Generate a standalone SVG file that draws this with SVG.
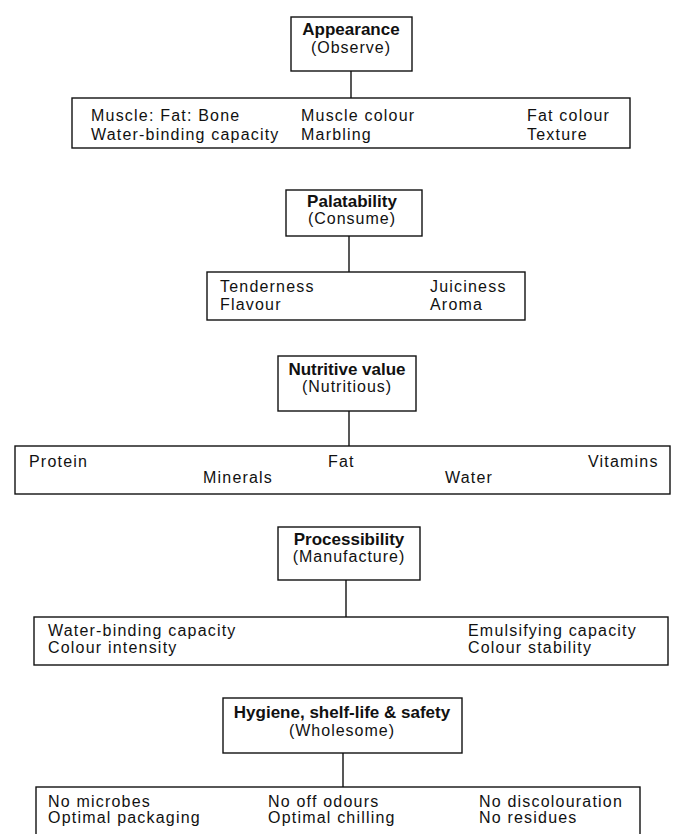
<svg xmlns="http://www.w3.org/2000/svg" width="683" height="834" viewBox="0 0 683 834">
<style>
.box{fill:#fff;stroke:#111;stroke-width:1.4}
.t{font-family:"Liberation Sans",Arial,sans-serif;font-weight:bold;font-size:17px;fill:#111;text-anchor:middle}
.s{font-family:"Liberation Sans",Arial,sans-serif;font-size:16px;fill:#111;text-anchor:middle;letter-spacing:1px}
.b{font-family:"Liberation Sans",Arial,sans-serif;font-size:16px;fill:#111;letter-spacing:1.2px}
.c{stroke:#111;stroke-width:1.4;fill:none}
</style>
<rect width="683" height="834" fill="#fff"/>
<g id="connectors">
<line class="c" x1="351" y1="71" x2="351" y2="98"/>
<line class="c" x1="349" y1="236" x2="349" y2="272"/>
<line class="c" x1="349" y1="411" x2="349" y2="446"/>
<line class="c" x1="346" y1="580" x2="346" y2="617"/>
<line class="c" x1="343" y1="753" x2="343" y2="787"/>
</g>
<g id="appearance">
<rect class="box" x="291" y="17" width="121" height="54"/>
<text class="t" x="351" y="35">Appearance</text>
<text class="s" x="351" y="53">(Observe)</text>
</g>
<g id="appearance-details">
<rect class="box" x="72" y="98" width="558" height="50"/>
<text class="b" x="91" y="121">Muscle: Fat: Bone</text>
<text class="b" x="91" y="140">Water-binding capacity</text>
<text class="b" x="301" y="121">Muscle colour</text>
<text class="b" x="301" y="140">Marbling</text>
<text class="b" x="527" y="121">Fat colour</text>
<text class="b" x="527" y="140">Texture</text>
</g>
<g id="palatability">
<rect class="box" x="286" y="190" width="136" height="46"/>
<text class="t" x="352" y="207">Palatability</text>
<text class="s" x="352" y="224">(Consume)</text>
</g>
<g id="palatability-details">
<rect class="box" x="207" y="272" width="318" height="48"/>
<text class="b" x="220" y="292">Tenderness</text>
<text class="b" x="220" y="310">Flavour</text>
<text class="b" x="430" y="292">Juiciness</text>
<text class="b" x="430" y="310">Aroma</text>
</g>
<g id="nutritive">
<rect class="box" x="278" y="356" width="138" height="55"/>
<text class="t" x="347" y="375">Nutritive value</text>
<text class="s" x="347" y="392">(Nutritious)</text>
</g>
<g id="nutritive-details">
<rect class="box" x="15" y="446" width="655" height="48"/>
<text class="b" x="29" y="467">Protein</text>
<text class="b" x="328" y="467">Fat</text>
<text class="b" x="588" y="467">Vitamins</text>
<text class="b" x="203" y="483">Minerals</text>
<text class="b" x="445" y="483">Water</text>
</g>
<g id="processibility">
<rect class="box" x="278" y="527" width="142" height="53"/>
<text class="t" x="349" y="545">Processibility</text>
<text class="s" x="349" y="562">(Manufacture)</text>
</g>
<g id="processibility-details">
<rect class="box" x="34" y="617" width="634" height="48"/>
<text class="b" x="48" y="636">Water-binding capacity</text>
<text class="b" x="48" y="653">Colour intensity</text>
<text class="b" x="468" y="636">Emulsifying capacity</text>
<text class="b" x="468" y="653">Colour stability</text>
</g>
<g id="hygiene">
<rect class="box" x="223" y="698" width="239" height="55"/>
<text class="t" x="342" y="718">Hygiene, shelf-life &amp; safety</text>
<text class="s" x="342" y="736">(Wholesome)</text>
</g>
<g id="hygiene-details">
<rect class="box" x="36" y="787" width="604" height="60"/>
<text class="b" x="48" y="807">No microbes</text>
<text class="b" x="48" y="823">Optimal packaging</text>
<text class="b" x="268" y="807">No off odours</text>
<text class="b" x="268" y="823">Optimal chilling</text>
<text class="b" x="479" y="807">No discolouration</text>
<text class="b" x="479" y="823">No residues</text>
</g>
</svg>
